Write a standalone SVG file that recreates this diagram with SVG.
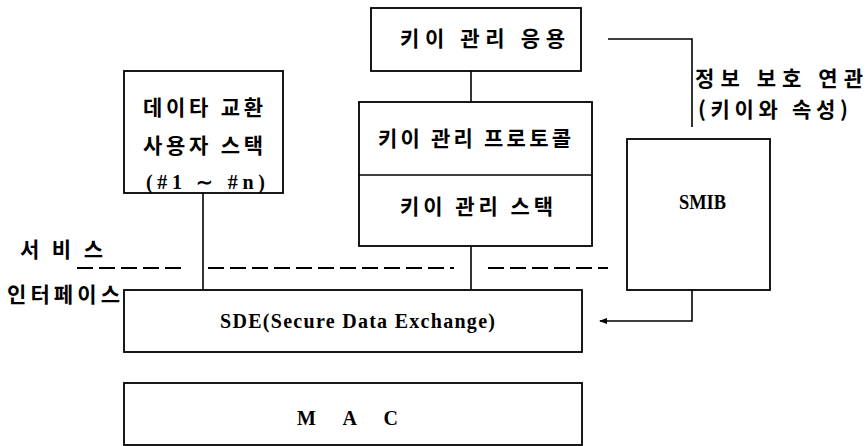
<svg xmlns="http://www.w3.org/2000/svg" width="866" height="446" viewBox="0 0 866 446">
<style>
.box{fill:none;stroke:#000;stroke-width:1.8}
.ln{fill:none;stroke:#000;stroke-width:1.6}
.dash{fill:none;stroke:#000;stroke-width:1.8;stroke-dasharray:16 6}
.k{font-family:"Noto Sans CJK KR","Liberation Sans",sans-serif;font-weight:bold;font-size:21px;fill:#000;dominant-baseline:central}
.s{font-family:"Liberation Serif","Noto Sans CJK KR",serif;font-weight:bold;font-size:20px;fill:#000;dominant-baseline:central}
</style>
<defs>
<marker id="ah" markerWidth="8" markerHeight="8" refX="7" refY="4" orient="auto" markerUnits="userSpaceOnUse">
<path d="M0,1 L8,4 L0,7 Z" fill="#000"/>
</marker>
</defs>
<g id="connectors">
<line class="ln" x1="471" y1="71" x2="471" y2="102"/>
<polyline class="ln" points="608,39 692,39 692,127"/>
<line class="ln" x1="203" y1="193" x2="203" y2="290"/>
<line class="ln" x1="471" y1="246" x2="471" y2="290"/>
<polyline class="ln" points="692,290 692,321 600,321" marker-end="url(#ah)"/>
<line class="dash" x1="77" y1="268" x2="185" y2="268"/>
<line class="dash" x1="208" y1="268" x2="454" y2="268"/>
<line class="dash" x1="488" y1="268" x2="608" y2="268"/>
</g>
<g id="data-stack">
<rect class="box" x="124" y="71" width="159" height="122"/>
<text class="k" x="143" y="106" textLength="120" lengthAdjust="spacing">데이타 교환</text>
<text class="k" x="143" y="144" textLength="120" lengthAdjust="spacing">사용자 스택</text>
<text class="s" x="146" y="182" textLength="119" lengthAdjust="spacing">(#1 ∼ #n)</text>
</g>
<g id="key-app">
<rect class="box" x="371" y="8" width="210" height="63"/>
<text class="k" x="400" y="37" textLength="165" lengthAdjust="spacing">키이 관리 응용</text>
</g>
<g id="key-stack">
<rect class="box" x="359" y="102" width="233" height="144"/>
<line class="ln" x1="359" y1="175" x2="592" y2="175"/>
<text class="k" x="378" y="137" textLength="193" lengthAdjust="spacing">키이 관리 프로토콜</text>
<text class="k" x="400" y="205" textLength="153" lengthAdjust="spacing">키이 관리 스택</text>
</g>
<g id="smib">
<rect class="box" x="627" y="139" width="143" height="151"/>
<text class="s" x="679" y="202" textLength="47" lengthAdjust="spacingAndGlyphs">SMIB</text>
</g>
<g id="sa-label">
<text class="k" x="695" y="77" textLength="168" lengthAdjust="spacing">정보  보호 연관</text>
<text class="k" x="698" y="108" textLength="150" lengthAdjust="spacing">(키이와 속성)</text>
</g>
<g id="service-label">
<text class="k" x="20" y="248" textLength="83" lengthAdjust="spacing">서 비 스</text>
<text class="k" x="7" y="293" textLength="113" lengthAdjust="spacing">인터페이스</text>
</g>
<g id="sde">
<rect class="box" x="124" y="290" width="458" height="62"/>
<text class="s" x="220" y="321" textLength="275" lengthAdjust="spacing">SDE(Secure Data Exchange)</text>
</g>
<g id="mac">
<rect class="box" x="124" y="383" width="458" height="62"/>
<text class="s" x="297" y="418" textLength="101" lengthAdjust="spacing">M   A   C</text>
</g>
</svg>
